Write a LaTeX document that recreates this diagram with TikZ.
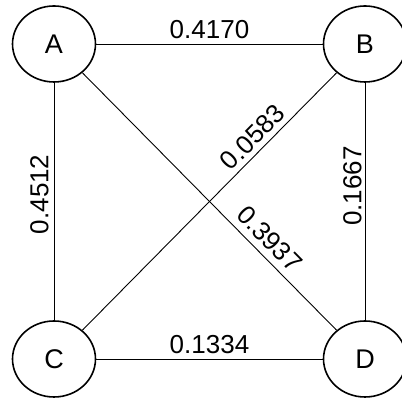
\documentclass[tikz,border=0pt]{standalone}
\usepackage{fontspec}
\setmainfont{Liberation Sans}
\usetikzlibrary{shapes.geometric}
\begin{document}
\begin{tikzpicture}[x=1pt,y=1pt,
  vert/.style={ellipse,draw,line width=1.6pt,minimum width=83pt,minimum height=76pt,inner sep=0pt,
    font=\fontsize{27}{30}\selectfont},
  edge/.style={line width=0.9pt},
  wlabel/.style={font=\fontsize{26}{30}\selectfont,inner sep=5pt}]
\useasboundingbox (0,0) rectangle (402,398);
\node[vert] (A) at (54,354) {A};
\node[vert] (B) at (365,354) {B};
\node[vert] (C) at (54,39) {C};
\node[vert] (D) at (365,39) {D};
\draw[edge] (A) -- node[wlabel,above] {0.4170} (B);
\draw[edge] (C) -- node[wlabel,above] {0.1334} (D);
\draw[edge] (C) -- node[wlabel,above,sloped,pos=0.53] {0.4512} (A);
\draw[edge] (D) -- node[wlabel,above,sloped,pos=0.565,inner sep=3pt] {0.1667} (B);
\draw[edge] (C) -- node[wlabel,above,sloped,pos=0.71] {0.0583} (B);
\draw[edge] (A) -- node[wlabel,above,sloped,pos=0.69,inner sep=7pt] {0.3937} (D);
\end{tikzpicture}
\end{document}
